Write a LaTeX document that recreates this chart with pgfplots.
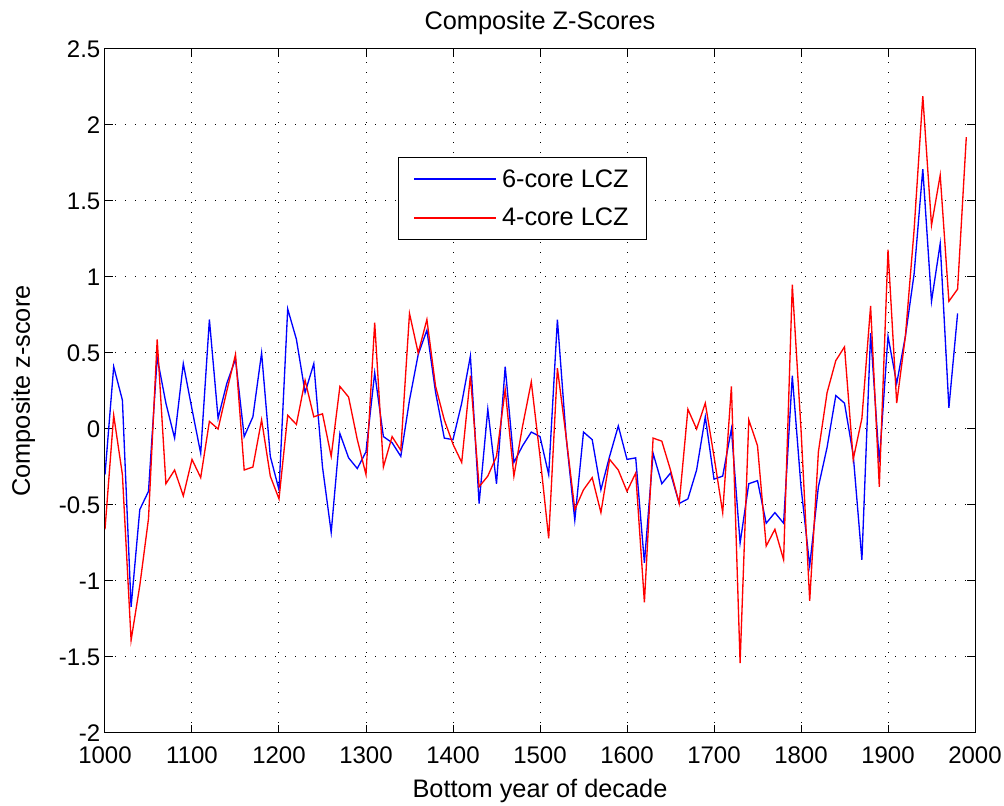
\documentclass[border=0pt]{standalone}
\usepackage{fontspec}
\setmainfont{Liberation Sans}
\usepackage{pgfplots}
\pgfplotsset{compat=1.18}

% Decadal composite z-scores (bottom year of each decade)
\pgfplotstableread{
year z
1000 -0.30
1010 0.41
1020 0.19
1030 -1.17
1040 -0.53
1050 -0.41
1060 0.47
1070 0.17
1080 -0.06
1090 0.43
1100 0.13
1110 -0.16
1120 0.72
1130 0.07
1140 0.30
1150 0.46
1160 -0.05
1170 0.08
1180 0.50
1190 -0.18
1200 -0.40
1210 0.79
1220 0.59
1230 0.24
1240 0.43
1250 -0.25
1260 -0.68
1270 -0.03
1280 -0.19
1290 -0.26
1300 -0.15
1310 0.37
1320 -0.05
1330 -0.09
1340 -0.18
1350 0.19
1360 0.49
1370 0.65
1380 0.24
1390 -0.06
1400 -0.07
1410 0.17
1420 0.48
1430 -0.49
1440 0.13
1450 -0.36
1460 0.41
1470 -0.22
1480 -0.11
1490 -0.02
1500 -0.05
1510 -0.30
1520 0.72
1530 -0.05
1540 -0.60
1550 -0.02
1560 -0.07
1570 -0.40
1580 -0.18
1590 0.02
1600 -0.20
1610 -0.19
1620 -0.88
1630 -0.16
1640 -0.36
1650 -0.29
1660 -0.49
1670 -0.46
1680 -0.27
1690 0.08
1700 -0.33
1710 -0.31
1720 0.00
1730 -0.75
1740 -0.36
1750 -0.34
1760 -0.62
1770 -0.55
1780 -0.62
1790 0.35
1800 -0.38
1810 -0.90
1820 -0.38
1830 -0.12
1840 0.22
1850 0.17
1860 -0.17
1870 -0.86
1880 0.63
1890 -0.22
1900 0.61
1910 0.30
1920 0.61
1930 1.02
1940 1.71
1950 0.84
1960 1.22
1970 0.14
1980 0.76
}\sixcore

\pgfplotstableread{
year z
1000 -0.66
1010 0.09
1020 -0.30
1030 -1.39
1040 -1.03
1050 -0.59
1060 0.59
1070 -0.36
1080 -0.27
1090 -0.44
1100 -0.20
1110 -0.32
1120 0.05
1130 0.00
1140 0.25
1150 0.49
1160 -0.27
1170 -0.25
1180 0.06
1190 -0.31
1200 -0.46
1210 0.09
1220 0.03
1230 0.32
1240 0.08
1250 0.10
1260 -0.18
1270 0.28
1280 0.21
1290 -0.07
1300 -0.30
1310 0.70
1320 -0.25
1330 -0.05
1340 -0.14
1350 0.76
1360 0.50
1370 0.72
1380 0.28
1390 0.06
1400 -0.10
1410 -0.22
1420 0.35
1430 -0.38
1440 -0.31
1450 -0.18
1460 0.26
1470 -0.31
1480 0.02
1490 0.31
1500 -0.18
1510 -0.72
1520 0.40
1530 -0.05
1540 -0.53
1550 -0.40
1560 -0.32
1570 -0.55
1580 -0.20
1590 -0.27
1600 -0.41
1610 -0.29
1620 -1.14
1630 -0.06
1640 -0.08
1650 -0.27
1660 -0.49
1670 0.13
1680 0.00
1690 0.17
1700 -0.18
1710 -0.55
1720 0.28
1730 -1.54
1740 0.06
1750 -0.11
1760 -0.77
1770 -0.66
1780 -0.86
1790 0.95
1800 0.00
1810 -1.13
1820 -0.15
1830 0.24
1840 0.45
1850 0.54
1860 -0.20
1870 0.07
1880 0.81
1890 -0.38
1900 1.18
1910 0.17
1920 0.61
1930 1.31
1940 2.19
1950 1.34
1960 1.67
1970 0.84
1980 0.92
1990 1.92
}\fourcore

\begin{document}
\begin{tikzpicture}
\useasboundingbox (-78.75pt,-54.75pt) rectangle (674.25pt,549.75pt);
\begin{axis}[
  at={(0pt,0pt)}, anchor=south west,
  scale only axis, width=652.5pt, height=513pt,
  xmin=1000, xmax=2000, ymin=-2, ymax=2.5,
  xtick={1000,1100,1200,1300,1400,1500,1600,1700,1800,1900,2000},
  ytick={-2,-1.5,-1,-0.5,0,0.5,1,1.5,2,2.5},
  /pgf/number format/assume math mode=true,
  /pgf/number format/1000 sep={},
  tick align=inside, major tick length=6pt,
  tick style={black, line width=0.75pt},
  axis line style={black, line width=0.75pt},
  grid=major,
  major grid style={black, line width=0.75pt, dash pattern=on 0.75pt off 6.75pt},
  ticklabel style={font=\fontsize{18}{22}\selectfont},
  xticklabel style={yshift=-6.5pt},
  label style={font=\fontsize{19}{23}\selectfont},
  xlabel style={yshift=-5pt},
  ylabel style={yshift=11pt},
  title style={font=\fontsize{19}{23}\selectfont, yshift=1pt},
  title={Composite Z-Scores},
  xlabel={Bottom year of decade},
  ylabel={Composite z-score},
  legend cell align=left,
  legend image code/.code={\draw[#1, line width=1.5pt] (0pt,0pt) -- (61pt,0pt);},
  legend style={at={(0.337,0.842)}, anchor=north west, draw=black,
    line width=0.75pt, font=\fontsize{19}{23}\selectfont,
    inner xsep=11pt, inner ysep=7pt, row sep=10pt, column sep=2pt},
]
\addplot[blue, line width=1pt] table[x=year, y=z] {\sixcore};
\addlegendentry{6-core LCZ}
\addplot[red, line width=1pt] table[x=year, y=z] {\fourcore};
\addlegendentry{4-core LCZ}
\end{axis}
\end{tikzpicture}
\end{document}
